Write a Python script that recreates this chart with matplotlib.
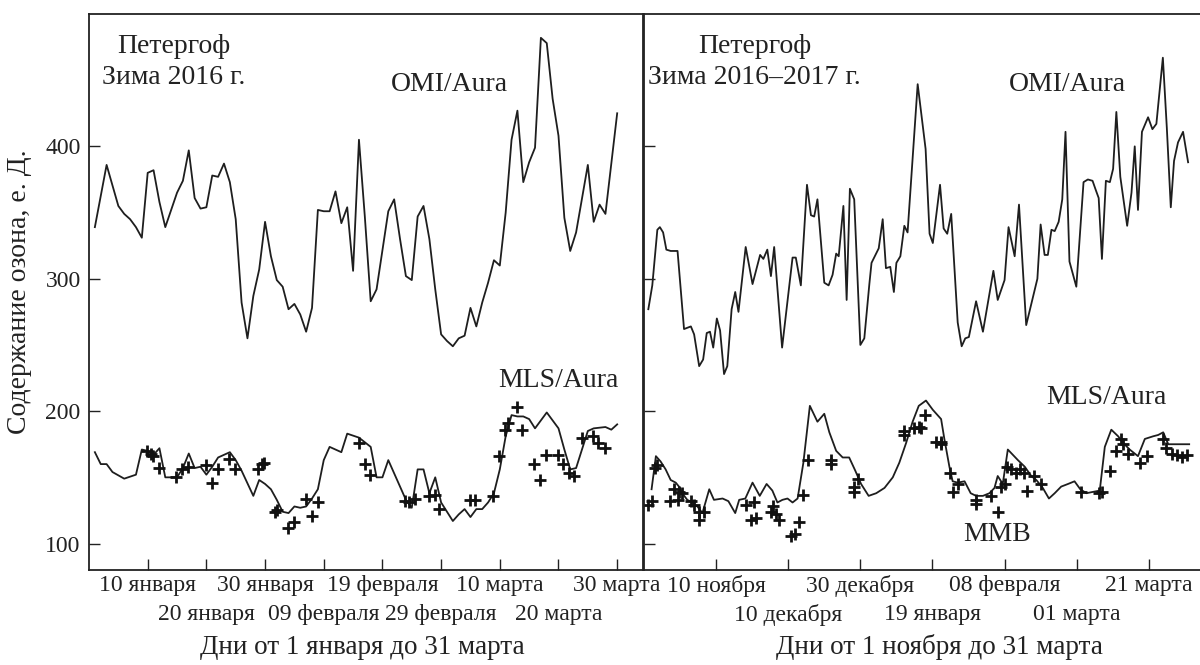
import matplotlib
matplotlib.use("Agg")
import matplotlib.pyplot as plt

plt.rcParams['font.family'] = ['Liberation Serif', 'DejaVu Serif']

# ---------------- Left panel: winter 2016 (day from 1 January) ----------------
left_omi_days = [1, 3, 5, 6, 7, 8, 9, 10, 11, 12, 13,
                 15, 16, 17, 18, 19, 20, 21, 22, 23, 24, 25, 26, 27, 28, 29, 30, 31, 32, 33, 34,
                 35, 36, 37, 38, 39, 40, 41, 42, 43, 44, 45, 46, 47, 48, 49,
                 51, 52, 53, 54, 55, 56, 57, 58, 59, 60, 61, 62, 63, 64, 65, 66, 67, 68, 69, 70,
                 71, 72, 73, 74, 75, 76, 77, 78, 79, 80, 81, 82, 83,
                 85, 86, 87, 88, 90]
left_omi_vals = [339, 386, 355, 349, 345, 339, 331, 380, 382, 358, 339,
                 365, 374, 397, 361, 353, 354, 378, 377, 387, 373, 345, 282, 255, 287, 307, 343, 317, 299, 294, 277,
                 281, 273, 260, 278, 352, 351, 351, 366, 342, 354, 306, 405, 347, 283, 292,
                 351, 360, 330, 302, 299, 347, 355, 330, 292, 258, 253, 249, 255, 257, 278, 264, 282, 297, 314, 310,
                 350, 405, 427, 373, 388, 399, 482, 478, 436, 408, 346, 321, 335,
                 386, 343, 356, 349, 425]

left_mls_days = [1, 2, 3, 4, 6, 8, 9, 10, 11, 12, 13, 15, 16, 17, 18, 19, 20, 21, 22, 24, 25, 26,
                 28, 29, 30, 31, 32, 33, 34, 35, 36, 37, 38, 39, 40, 41, 43, 44, 46, 48, 49, 50, 51,
                 54, 55, 56, 57, 58, 59, 60, 61, 62, 63, 64, 65, 66, 67, 68, 69, 70, 71, 72, 73, 74,
                 75, 76, 78, 80, 81, 82, 83, 85, 86, 88, 89, 90]
left_mls_vals = [169, 160, 160, 154, 149, 152, 171, 170, 167, 172, 150, 150, 157, 168, 157, 158, 152, 158, 165, 169, 163, 155,
                 136, 148, 145, 141, 133, 124, 123, 128, 127, 128, 134, 141, 163, 173, 169, 183, 180, 173, 150, 150, 163,
                 133, 127, 156, 156, 138, 150, 131, 124, 117, 122, 126, 120, 126, 126, 131, 138, 156, 181, 197, 196, 196,
                 194, 187, 199, 187, 171, 156, 157, 185, 187, 188, 186, 190]

left_mmb_days = [9.9, 10.5, 10.9, 11.9, 14.9, 15.9, 16.9, 20.0, 21.0, 21.9, 23.8, 24.8, 28.8, 29.4, 29.9,
                 31.7, 32.1, 33.9, 34.9, 37.0, 38.0, 39.0, 46.0, 47.0, 47.8, 53.8, 54.6, 55.5, 58.0, 59.0,
                 59.7, 65.0, 65.7, 68.8, 69.8, 70.8, 71.4, 72.9, 73.8, 75.8, 76.8, 77.8, 79.9, 80.7, 81.8,
                 82.7, 84.0, 85.9, 86.7, 87.9]
left_mmb_vals = [170, 168, 166, 157, 150, 156, 158, 159, 146, 156, 164, 156, 156, 160, 161,
                 124, 125, 112, 116, 134, 121, 131, 176, 160, 152, 132, 131, 134, 136, 137,
                 126, 133, 133, 136, 166, 186, 191, 203, 186, 160, 148, 167, 167, 160, 153,
                 151, 180, 181, 176, 172]

left_ticks_row1 = [10, 30, 50, 70, 90]
left_labels_row1 = ["10 января", "30 января", "19 февраля", "10 марта", "30 марта"]
left_ticks_row2 = [20, 40, 60, 80]
left_labels_row2 = ["20 января", "09 февраля", "29 февраля", "20 марта"]

# ---------------- Right panel: winter 2016-2017 (day from 1 November) ----------------
right_omi_days = [1.2, 2.3, 3.7, 4.4, 5.3, 6.2, 7.4, 8.3, 9.3, 11.1, 13.0, 13.9, 15.3, 16.4, 17.4, 18.3,
                  19.2, 20.2, 21.1, 22.2, 23.1, 24.3, 25.3, 26.2, 28.2, 30.1, 32.2, 33.1, 34.2, 35.2, 36.1,
                  38.3, 41.2, 42.1, 43.5, 45.2, 46.3, 47.2, 48.1, 50.0, 51.2, 52.3, 53.3, 54.0, 55.3, 56.2,
                  57.1, 58.3, 60.0, 61.1, 62.5, 63.1, 65.1, 66.2, 67.1, 68.3, 69.3, 70.0, 71.1, 72.2, 73.1,
                  75.9, 78.1, 79.2, 80.1, 82.1, 83.1, 84.1, 85.2, 87.0, 88.1, 89.1, 90.1, 92.1, 94.0, 96.9,
                  98.1, 100.0, 101.1, 102.8, 104.0, 106.0, 109.1, 110.0, 111.1, 112.0, 113.0, 113.9, 115.0,
                  116.0, 116.9, 118.0, 119.9, 121.9, 123.1, 124.4, 125.3, 126.1, 127.0, 128.1, 129.2, 130.1,
                  131.0, 132.1, 134.0, 135.2, 136.1, 137.0, 138.1, 139.8, 141.0, 142.1, 143.9, 145.0, 146.1,
                  147.0, 148.1, 149.5, 150.9]
right_omi_vals = [277, 295, 337, 339, 335, 322, 321, 321, 321, 262, 264, 258, 234, 239, 259, 260,
                  248, 270, 261, 228, 234, 277, 290, 275, 324, 296, 318, 315, 322, 302, 324,
                  248, 316, 316, 295, 371, 348, 347, 360, 297, 295, 303, 319, 317, 355, 284,
                  368, 360, 250, 255, 296, 312, 323, 345, 308, 309, 290, 312, 317, 340, 335,
                  447, 398, 334, 327, 371, 338, 334, 349, 267, 249, 255, 256, 283, 260, 306,
                  284, 299, 339, 317, 356, 265, 300, 341, 318, 318, 337, 336, 343,
                  360, 411, 313, 294, 373, 375, 374, 367, 361, 315, 374, 373, 383,
                  426, 377, 340, 365, 400, 352, 411, 422, 413, 417, 467, 414, 354,
                  389, 403, 411, 388]

right_mls_days = [2.1, 3.3, 4.6, 6.0, 7.4, 8.8, 9.7, 10.6, 12.0, 13.4, 14.8, 16.2, 18.1, 19.4, 21.8, 23.4,
                  25.3, 26.4, 28.1, 30.1, 32.1, 34.0, 35.6, 37.0, 38.4, 39.8, 41.2, 42.6, 44.2, 46.0, 48.1,
                  50.0, 51.4, 53.3, 55.1, 56.9, 58.6, 60.2, 62.3, 64.4, 66.7, 69.0, 70.8, 72.7, 74.5, 76.2,
                  78.2, 80.1, 82.4, 83.3, 84.7, 85.6, 87.0, 88.9, 90.6, 92.1, 94.0, 95.8, 97.2, 98.1, 99.5,
                  100.9, 102.3, 103.7, 105.6, 107.4, 108.8, 110.6, 112.3, 113.9, 115.7, 117.6, 119.4, 121.0,
                  122.7, 124.5, 126.4, 127.8, 129.6, 131.5, 132.9, 134.7, 137.0, 138.9, 141.2, 142.6, 144.0,
                  145.4, 147.2, 149.5, 151.2]
right_mls_vals = [141, 166, 162, 156, 148, 146, 143, 138, 133, 131, 128, 123, 141, 133, 134, 132,
                  123, 133, 134, 146, 136, 145, 140, 131, 133, 134, 131, 134, 161, 204, 192,
                  198, 184, 170, 165, 165, 155, 145, 136, 138, 142, 150, 161, 176, 192, 204,
                  208, 201, 194, 179, 158, 147, 146, 147, 138, 136, 136, 138, 142, 151, 145,
                  171, 167, 163, 158, 151, 148, 142, 134, 138, 143, 145, 147, 141,
                  138, 139, 140, 173, 186, 181, 176, 171, 166, 179, 181, 182, 184,
                  175, 175, 175, 175]

right_mmb_days = [1.2, 2.3, 3.1, 3.7, 7.1, 8.3, 9.3, 9.7, 10.6, 13.0, 13.9, 15.3, 15.3, 16.7,
                  28.2, 29.6, 30.6, 31.0, 35.2, 35.9, 36.6, 37.5, 40.9, 41.9, 43.1, 44.0, 45.4,
                  51.9, 51.9, 58.3, 58.3, 59.3, 72.2, 72.2, 75.0, 76.2, 76.9, 77.8, 81.0, 82.4, 82.4,
                  84.9, 85.8, 87.0, 92.1, 92.1, 96.3, 98.1, 99.1, 100.0, 100.6, 101.9, 103.1, 104.2,
                  105.4, 106.2, 108.1, 110.2, 121.3, 126.2, 126.9, 129.2, 131.0, 132.4, 132.9, 134.3,
                  137.5, 139.5, 144.0, 144.9, 146.3, 147.7, 149.1, 150.5]
right_mmb_vals = [129, 132, 157, 159, 132, 141, 133, 139, 138, 132, 129, 124, 118, 124,
                  129, 118, 131, 119, 124, 128, 122, 118, 106, 107, 116, 137, 163,
                  163, 160, 143, 139, 149, 185, 182, 187, 188, 187, 197, 177, 177, 175,
                  153, 139, 145, 133, 130, 136, 124, 143, 145, 158, 156, 153, 156,
                  153, 140, 151, 145, 139, 138, 139, 155, 170, 179, 175, 168,
                  161, 166, 179, 172, 168, 167, 165, 167]

right_ticks_row1 = [20, 60, 100, 140]
right_labels_row1 = ["10 ноября", "30 декабря", "08 февраля", "21 марта"]
right_ticks_row2 = [40, 80, 120]
right_labels_row2 = ["10 декабря", "19 января", "01 марта"]

y_ticks = [100, 200, 300, 400]

LINE = '#1e1e1e'
TXT = '#222222'
TICK_FS = 17
ANN_FS = 20

fig = plt.figure(figsize=(12, 6.65), dpi=100)
axL = fig.add_axes([89 / 1200, 95 / 665, 554 / 1200, 556 / 665])
axR = fig.add_axes([644 / 1200, 95 / 665, 556 / 1200, 556 / 665])


def style(ax, t1, l1, t2, l2, xlim):
    ax.set_xlim(*xlim)
    ax.set_ylim(80, 500)
    ax.set_yticks(y_ticks)
    ax.set_xticks(t1)
    ax.set_xticklabels(l1, fontsize=TICK_FS)
    ax.set_xticks(t2, minor=True)
    ax.set_xticklabels(l2, minor=True, fontsize=TICK_FS)
    ax.tick_params(axis='both', which='both', direction='in', length=8, width=1.0,
                   colors=TXT, labelcolor=TXT)
    ax.tick_params(axis='x', which='major', pad=3.5)
    ax.tick_params(axis='x', which='minor', pad=24.5)
    ax.tick_params(axis='y', pad=6, labelsize=TICK_FS)
    for s in ax.spines.values():
        s.set_linewidth(1.3)
        s.set_color(TXT)


style(axL, left_ticks_row1, left_labels_row1, left_ticks_row2, left_labels_row2, (0, 94.4))
style(axR, right_ticks_row1, right_labels_row1, right_ticks_row2, right_labels_row2, (0, 154.2))
axL.set_yticklabels([str(v) for v in y_ticks])
axR.set_yticklabels([])
axR.spines['right'].set_visible(False)

# left panel data
axL.plot(left_omi_days, left_omi_vals, color=LINE, lw=1.3)
axL.plot(left_mls_days, left_mls_vals, color=LINE, lw=1.3)
axL.plot(left_mmb_days, left_mmb_vals, linestyle='none', marker='+', ms=9, mew=2.0, color='#111111')

# right panel data
axR.plot(right_omi_days, right_omi_vals, color=LINE, lw=1.3)
axR.plot(right_mls_days, right_mls_vals, color=LINE, lw=1.3)
axR.plot(right_mmb_days, right_mmb_vals, linestyle='none', marker='+', ms=9, mew=2.0, color='#111111')

# annotations
axL.text(14.4, 464, "Петергоф\nЗима 2016 г.", ha='center', va='center', fontsize=ANN_FS,
         linespacing=1.3, color=TXT)
axL.text(61.5, 447, "OMI/Aura", ha='center', va='center', fontsize=ANN_FS, color=TXT)
axL.text(80, 223, "MLS/Aura", ha='center', va='center', fontsize=ANN_FS, color=TXT)

axR.text(30.6, 464, "Петергоф\nЗима 2016\u20132017 г.", ha='center', va='center', fontsize=ANN_FS,
         linespacing=1.3, color=TXT)
axR.text(117.5, 447, "OMI/Aura", ha='center', va='center', fontsize=ANN_FS, color=TXT)
axR.text(128.3, 210, "MLS/Aura", ha='center', va='center', fontsize=ANN_FS, color=TXT)
axR.text(97.8, 107, "MMB", ha='center', va='center', fontsize=ANN_FS, color=TXT)

# axis titles
fig.text(362 / 1200, 1 - 647 / 665, "Дни от 1 января до 31 марта", ha='center', va='center',
         fontsize=19.5, color=TXT)
fig.text(939 / 1200, 1 - 647 / 665, "Дни от 1 ноября до 31 марта", ha='center', va='center',
         fontsize=19.5, color=TXT)
fig.text(20 / 1200, 1 - 292 / 665, "Содержание озона, е. Д.", ha='center', va='center',
         rotation=90, fontsize=20, color=TXT)

fig.savefig("out.png", dpi=100)
